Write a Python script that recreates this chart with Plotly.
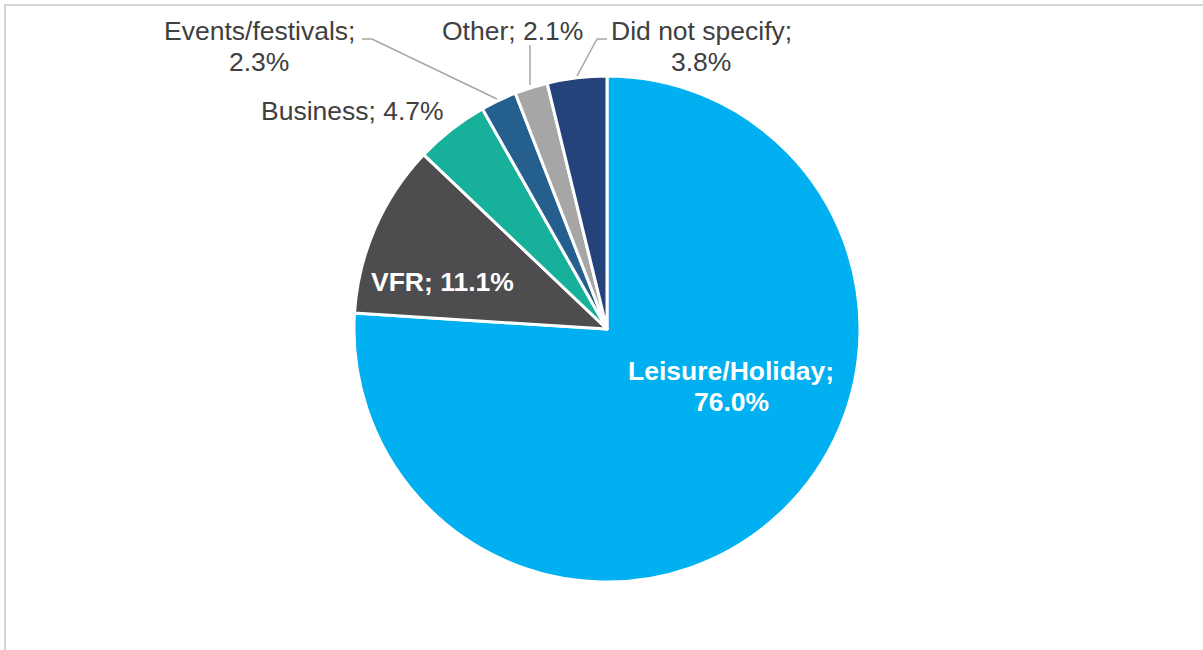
import plotly.graph_objects as go

categories = ["Leisure/Holiday", "VFR", "Business", "Events/festivals", "Other", "Did not specify"]
values = [76.0, 11.1, 4.7, 2.3, 2.1, 3.8]
colors = ["#00B0F0", "#4D4D4F", "#17B09B", "#245F8E", "#A6A6A6", "#24437A"]

W, H = 1203, 650
cx, cy, r = 607, 329, 253

def px(x):
    return x / W

def py(y):
    return 1 - y / H

fig = go.Figure()
fig.add_trace(go.Pie(
    labels=categories,
    values=values,
    sort=False,
    direction="clockwise",
    rotation=0,
    marker=dict(colors=colors, line=dict(color="white", width=3)),
    textinfo="none",
    hoverinfo="label+percent",
    showlegend=False,
    domain=dict(x=[px(cx - r), px(cx + r)], y=[py(cy + r), py(cy - r)]),
))

FONT = "Liberation Sans, Arial, sans-serif"
FS = 26.5

# label placements: (index, x, line-center y's, inside?)
placements = [
    (0, 731, [371, 402], True),
    (1, 442, [282], True),
    (2, 352, [111], False),
    (3, 259, [31, 62], False),
    (4, 512, [31], False),
    (5, 701, [31, 62], False),
]
for i, x, ys, inside in placements:
    if len(ys) == 2:
        lines = [f"{categories[i]};", f"{values[i]:.1f}%"]
    else:
        lines = [f"{categories[i]}; {values[i]:.1f}%"]
    for text, y in zip(lines, ys):
        if inside:
            text = f"<b>{text}</b>"
        fig.add_annotation(
            x=px(x), y=py(y), xref="paper", yref="paper",
            text=text, showarrow=False,
            font=dict(family=FONT, size=FS, color="white" if inside else "#404040"),
            align="center", xanchor="center", yanchor="middle",
        )

# leader lines
lc = dict(color="#A6A6A6", width=1.5)
leaders = [
    [(362, 39), (372, 39), (497, 99)],
    [(530, 45), (530, 85)],
    [(607, 39), (597, 39), (577, 76)],
]
for pts in leaders:
    path = "M " + " L ".join(f"{px(x)},{py(y)}" for x, y in pts)
    fig.add_shape(type="path", xref="paper", yref="paper", path=path, line=lc)

# outer frame (partially visible)
fig.add_shape(type="path", xref="paper", yref="paper",
              path=f"M {px(5)},{py(660)} L {px(5)},{py(5)} L {px(1210)},{py(5)}",
              line=dict(color="#D4D4D4", width=2))

fig.update_layout(
    width=W, height=H,
    margin=dict(l=0, r=0, t=0, b=0),
    paper_bgcolor="white", plot_bgcolor="white",
)
fig.write_html(
    "out.html",
    config={"displayModeBar": False},
    post_script="document.body.style.margin='0';document.body.style.overflow='hidden';",
)
